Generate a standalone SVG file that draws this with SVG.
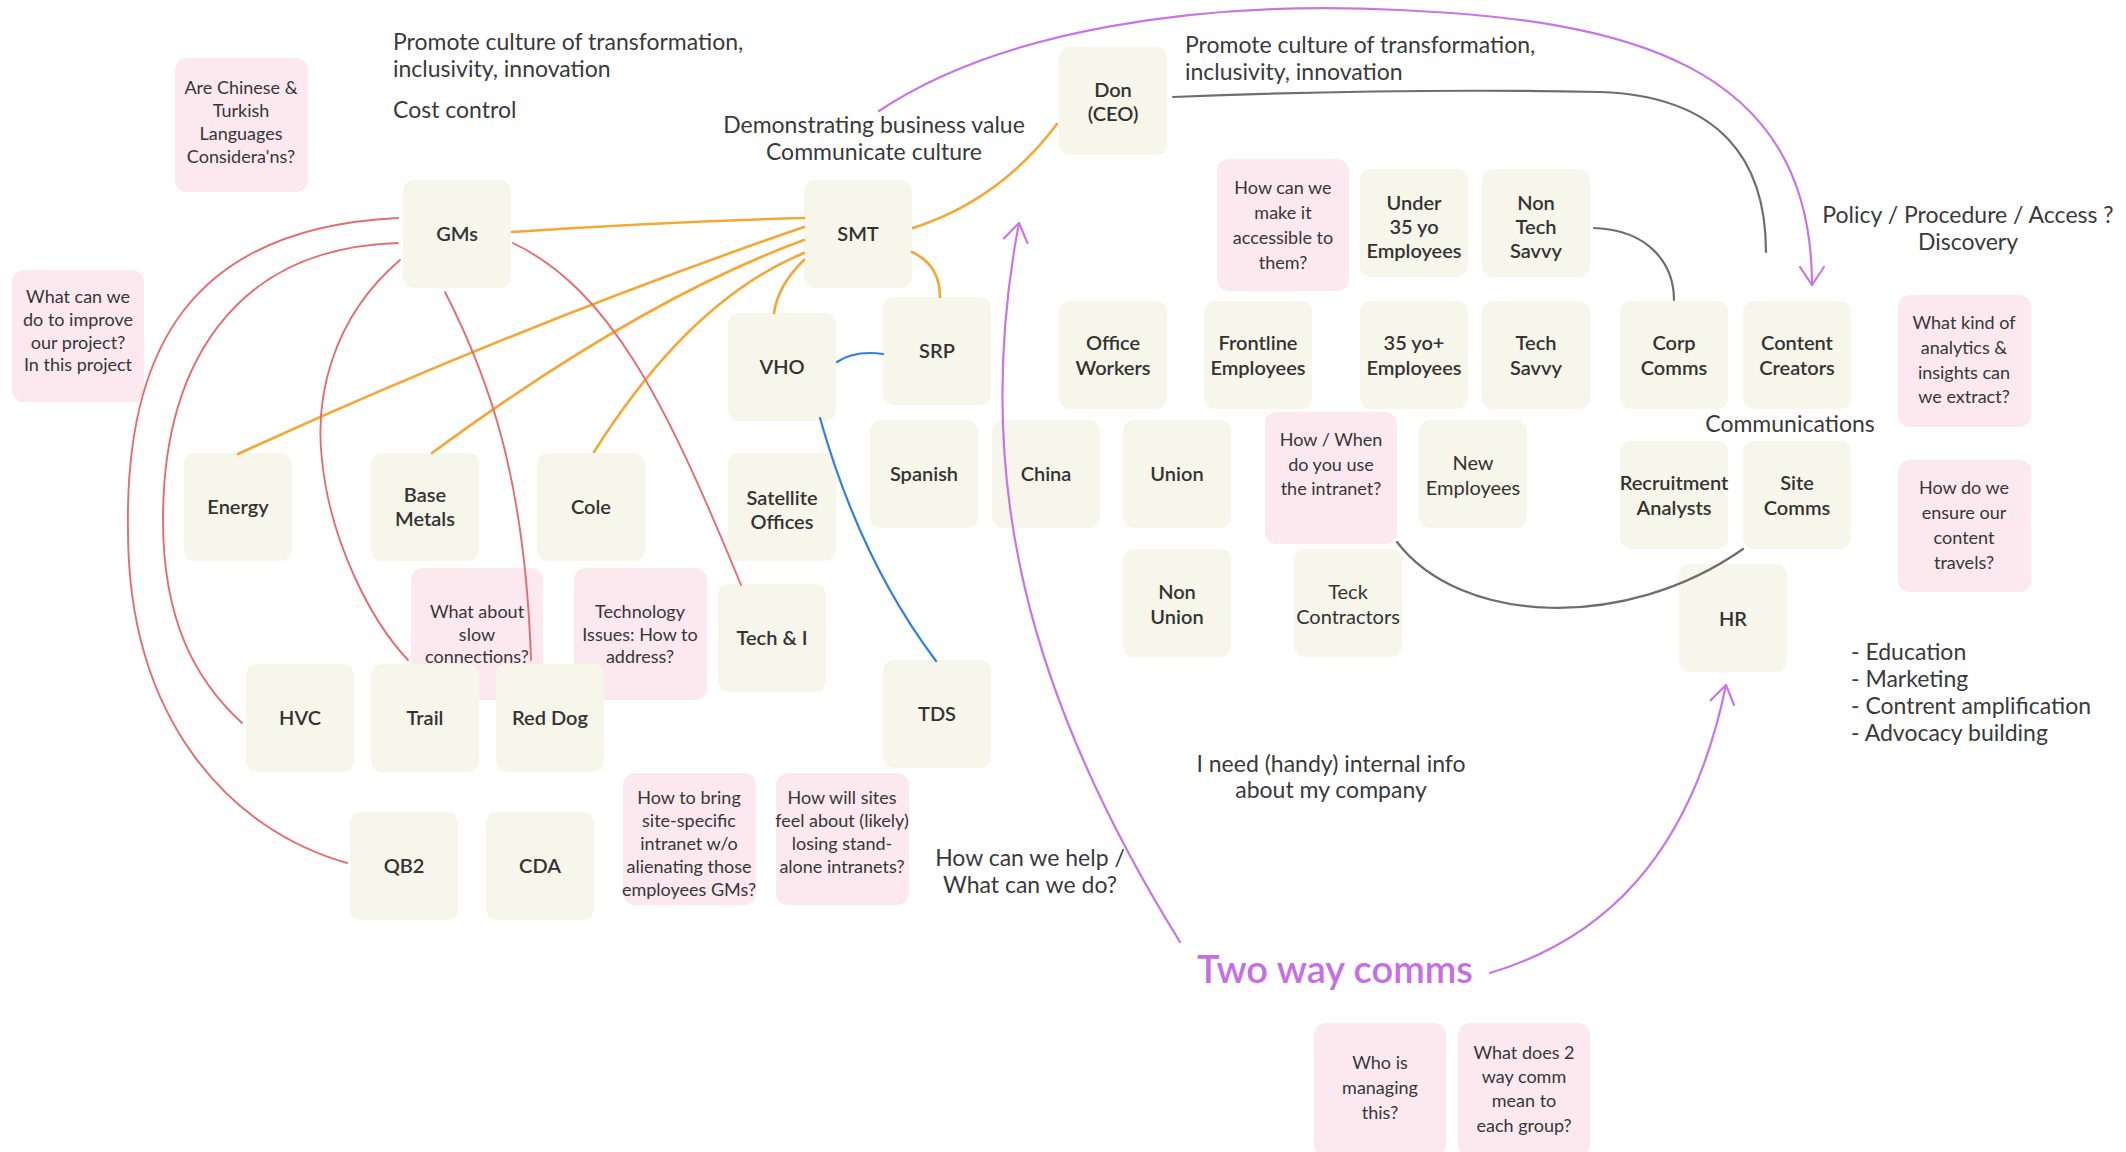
<svg xmlns="http://www.w3.org/2000/svg" width="2126" height="1152" viewBox="0 0 2126 1152">
  <defs>
    <style>
      .n rect { fill: #F7F6EA; }
      .q rect { fill: #FCE9EF; }
      .n text { font-family: Lato, "Noto Sans", sans-serif; font-size: 20px; font-weight: 600; fill: #333333; text-anchor: middle; }
      .n.reg text { font-weight: 400; }
      .q text { font-family: Lato, "Noto Sans", sans-serif; font-size: 18px; font-weight: 400; fill: #363636; text-anchor: middle; }
      .t { font-family: Lato, "Noto Sans", sans-serif; font-size: 23px; font-weight: 400; fill: #3a3a3a; }
      .mid { text-anchor: middle; }
      .big { font-family: Lato, "Noto Sans", sans-serif; font-size: 38px; font-weight: 600; fill: #C56FE6; text-anchor: middle; }
      .c path { fill: none; stroke-linecap: round; }
      .orange { stroke: #F6A732; stroke-width: 2.6; }
      .red { stroke: #E66C70; stroke-width: 1.9; }
      .blue { stroke: #2F7FE5; stroke-width: 2.2; }
      .gray { stroke: #6E6E6E; stroke-width: 2.2; }
      .purple { stroke: #C775E8; stroke-width: 2.2; }
    </style>
    <marker id="arrow" viewBox="-21 -15 23 30" refX="0" refY="0" markerWidth="23" markerHeight="30" markerUnits="userSpaceOnUse" orient="auto">
      <path d="M-18,-12 L0,0 L-18,12" fill="none" stroke="#C775E8" stroke-width="2.2" stroke-linejoin="round" stroke-linecap="round"/>
    </marker>
  </defs>

  <rect width="2126" height="1152" fill="#FFFFFF"/>

  <!-- free-standing notes -->
  <g id="notes">
    <text class="t"><tspan x="393" y="50">Promote culture of transformation,</tspan><tspan x="393" y="77">inclusivity, innovation</tspan></text>
    <text class="t" x="393" y="118">Cost control</text>
    <text class="t mid"><tspan x="874" y="133">Demonstrating business value</tspan><tspan x="874" y="160">Communicate culture</tspan></text>
    <text class="t"><tspan x="1185" y="53">Promote culture of transformation,</tspan><tspan x="1185" y="80">inclusivity, innovation</tspan></text>
    <text class="t mid"><tspan x="1968" y="223">Policy / Procedure / Access ?</tspan><tspan x="1968" y="250">Discovery</tspan></text>
    <text class="t mid" x="1790" y="432">Communications</text>
    <text class="t mid"><tspan x="1331" y="772">I need (handy) internal info</tspan><tspan x="1331" y="798">about my company</tspan></text>
    <text class="t mid"><tspan x="1030" y="866">How can we help /</tspan><tspan x="1030" y="893">What can we do?</tspan></text>
    <text class="t"><tspan x="1851" y="660">- Education</tspan><tspan x="1851" y="687">- Marketing</tspan><tspan x="1851" y="714">- Contrent amplification</tspan><tspan x="1851" y="741">- Advocacy building</tspan></text>
    <text class="big" x="1335" y="983">Two way comms</text>
  </g>

  <!-- question cards -->
  <g id="q-languages" class="q"><rect x="175" y="58" width="133" height="134" rx="12"/><text><tspan x="241" y="94">Are Chinese &amp;</tspan><tspan x="241" y="117">Turkish</tspan><tspan x="241" y="140">Languages</tspan><tspan x="241" y="163">Considera'ns?</tspan></text></g>
  <g id="q-improve" class="q"><rect x="12" y="270" width="132" height="132" rx="12"/><text><tspan x="78" y="303">What can we</tspan><tspan x="78" y="326">do to improve</tspan><tspan x="78" y="349">our project?</tspan><tspan x="78" y="371">In this project</tspan></text></g>
  <g id="q-slow" class="q"><rect x="411" y="568" width="132" height="132" rx="12"/><text><tspan x="477" y="618">What about</tspan><tspan x="477" y="641">slow</tspan><tspan x="477" y="663">connections?</tspan></text></g>
  <g id="q-tech" class="q"><rect x="574" y="568" width="133" height="132" rx="12"/><text><tspan x="640" y="618">Technology</tspan><tspan x="640" y="641">Issues: How to</tspan><tspan x="640" y="663">address?</tspan></text></g>
  <g id="q-bring" class="q"><rect x="623" y="773" width="133" height="132" rx="12"/><text><tspan x="689" y="804">How to bring</tspan><tspan x="689" y="827">site-specific</tspan><tspan x="689" y="850">intranet w/o</tspan><tspan x="689" y="873">alienating those</tspan><tspan x="689" y="896">employees GMs?</tspan></text></g>
  <g id="q-sites" class="q"><rect x="776" y="773" width="133" height="132" rx="12"/><text><tspan x="842" y="804">How will sites</tspan><tspan x="842" y="827">feel about (likely)</tspan><tspan x="842" y="850">losing stand-</tspan><tspan x="842" y="873">alone intranets?</tspan></text></g>
  <g id="q-access" class="q"><rect x="1217" y="159" width="132" height="132" rx="12"/><text><tspan x="1283" y="194">How can we</tspan><tspan x="1283" y="219">make it</tspan><tspan x="1283" y="244">accessible to</tspan><tspan x="1283" y="269">them?</tspan></text></g>
  <g id="q-when" class="q"><rect x="1265" y="412" width="132" height="132" rx="12"/><text><tspan x="1331" y="446">How / When</tspan><tspan x="1331" y="471">do you use</tspan><tspan x="1331" y="495">the intranet?</tspan></text></g>
  <g id="q-analytics" class="q"><rect x="1898" y="295" width="133" height="132" rx="12"/><text><tspan x="1964" y="329">What kind of</tspan><tspan x="1964" y="354">analytics &amp;</tspan><tspan x="1964" y="379">insights can</tspan><tspan x="1964" y="403">we extract?</tspan></text></g>
  <g id="q-travels" class="q"><rect x="1898" y="460" width="133" height="132" rx="12"/><text><tspan x="1964" y="494">How do we</tspan><tspan x="1964" y="519">ensure our</tspan><tspan x="1964" y="544">content</tspan><tspan x="1964" y="569">travels?</tspan></text></g>
  <g id="q-managing" class="q"><rect x="1314" y="1023" width="132" height="134" rx="12"/><text><tspan x="1380" y="1069">Who is</tspan><tspan x="1380" y="1094">managing</tspan><tspan x="1380" y="1119">this?</tspan></text></g>
  <g id="q-meaning" class="q"><rect x="1458" y="1023" width="132" height="134" rx="12"/><text><tspan x="1524" y="1059">What does 2</tspan><tspan x="1524" y="1083">way comm</tspan><tspan x="1524" y="1107">mean to</tspan><tspan x="1524" y="1132">each group?</tspan></text></g>

  <!-- stakeholder nodes -->
  <g id="gms" class="n"><rect x="403" y="180" width="108" height="108" rx="11"/><text x="457" y="241">GMs</text></g>
  <g id="smt" class="n"><rect x="804" y="180" width="108" height="108" rx="11"/><text x="858" y="241">SMT</text></g>
  <g id="don" class="n"><rect x="1059" y="47" width="108" height="108" rx="11"/><text><tspan x="1113" y="97">Don</tspan><tspan x="1113" y="121">(CEO)</tspan></text></g>
  <g id="vho" class="n"><rect x="728" y="313" width="108" height="108" rx="11"/><text x="782" y="374">VHO</text></g>
  <g id="srp" class="n"><rect x="883" y="297" width="108" height="108" rx="11"/><text x="937" y="358">SRP</text></g>
  <g id="energy" class="n"><rect x="184" y="453" width="108" height="108" rx="11"/><text x="238" y="514">Energy</text></g>
  <g id="base-metals" class="n"><rect x="371" y="453" width="108" height="108" rx="11"/><text><tspan x="425" y="502">Base</tspan><tspan x="425" y="526">Metals</tspan></text></g>
  <g id="cole" class="n"><rect x="537" y="453" width="108" height="108" rx="11"/><text x="591" y="514">Cole</text></g>
  <g id="satellite" class="n"><rect x="728" y="453" width="108" height="108" rx="11"/><text><tspan x="782" y="505">Satellite</tspan><tspan x="782" y="529">Offices</tspan></text></g>
  <g id="tech-i" class="n"><rect x="718" y="584" width="108" height="108" rx="11"/><text x="772" y="645">Tech &amp; I</text></g>
  <g id="hvc" class="n"><rect x="246" y="664" width="108" height="108" rx="11"/><text x="300" y="725">HVC</text></g>
  <g id="trail" class="n"><rect x="371" y="664" width="108" height="108" rx="11"/><text x="425" y="725">Trail</text></g>
  <g id="red-dog" class="n"><rect x="496" y="664" width="108" height="108" rx="11"/><text x="550" y="725">Red Dog</text></g>
  <g id="qb2" class="n"><rect x="350" y="812" width="108" height="108" rx="11"/><text x="404" y="873">QB2</text></g>
  <g id="cda" class="n"><rect x="486" y="812" width="108" height="108" rx="11"/><text x="540" y="873">CDA</text></g>
  <g id="tds" class="n"><rect x="883" y="660" width="108" height="108" rx="11"/><text x="937" y="721">TDS</text></g>
  <g id="spanish" class="n"><rect x="870" y="420" width="108" height="108" rx="11"/><text x="924" y="481">Spanish</text></g>
  <g id="china" class="n"><rect x="992" y="420" width="108" height="108" rx="11"/><text x="1046" y="481">China</text></g>
  <g id="union" class="n"><rect x="1123" y="420" width="108" height="108" rx="11"/><text x="1177" y="481">Union</text></g>
  <g id="non-union" class="n"><rect x="1123" y="549" width="108" height="108" rx="11"/><text><tspan x="1177" y="599">Non</tspan><tspan x="1177" y="624">Union</tspan></text></g>
  <g id="teck-contractors" class="n reg"><rect x="1294" y="549" width="108" height="108" rx="11"/><text><tspan x="1348" y="599">Teck</tspan><tspan x="1348" y="624">Contractors</tspan></text></g>
  <g id="new-employees" class="n reg"><rect x="1419" y="420" width="108" height="108" rx="11"/><text><tspan x="1473" y="470">New</tspan><tspan x="1473" y="495">Employees</tspan></text></g>
  <g id="office-workers" class="n"><rect x="1059" y="301" width="108" height="108" rx="11"/><text><tspan x="1113" y="350">Office</tspan><tspan x="1113" y="375">Workers</tspan></text></g>
  <g id="frontline" class="n"><rect x="1204" y="301" width="108" height="108" rx="11"/><text><tspan x="1258" y="350">Frontline</tspan><tspan x="1258" y="375">Employees</tspan></text></g>
  <g id="over-35" class="n"><rect x="1360" y="301" width="108" height="108" rx="11"/><text><tspan x="1414" y="350">35 yo+</tspan><tspan x="1414" y="375">Employees</tspan></text></g>
  <g id="tech-savvy" class="n"><rect x="1482" y="301" width="108" height="108" rx="11"/><text><tspan x="1536" y="350">Tech</tspan><tspan x="1536" y="375">Savvy</tspan></text></g>
  <g id="corp-comms" class="n"><rect x="1620" y="301" width="108" height="108" rx="11"/><text><tspan x="1674" y="350">Corp</tspan><tspan x="1674" y="375">Comms</tspan></text></g>
  <g id="content-creators" class="n"><rect x="1743" y="301" width="108" height="108" rx="11"/><text><tspan x="1797" y="350">Content</tspan><tspan x="1797" y="375">Creators</tspan></text></g>
  <g id="under-35" class="n"><rect x="1360" y="169" width="108" height="108" rx="11"/><text><tspan x="1414" y="210">Under</tspan><tspan x="1414" y="234">35 yo</tspan><tspan x="1414" y="258">Employees</tspan></text></g>
  <g id="non-tech-savvy" class="n"><rect x="1482" y="169" width="108" height="108" rx="11"/><text><tspan x="1536" y="210">Non</tspan><tspan x="1536" y="234">Tech</tspan><tspan x="1536" y="258">Savvy</tspan></text></g>
  <g id="recruitment" class="n"><rect x="1620" y="441" width="108" height="108" rx="11"/><text><tspan x="1674" y="490">Recruitment</tspan><tspan x="1674" y="515">Analysts</tspan></text></g>
  <g id="site-comms" class="n"><rect x="1743" y="441" width="108" height="108" rx="11"/><text><tspan x="1797" y="490">Site</tspan><tspan x="1797" y="515">Comms</tspan></text></g>
  <g id="hr" class="n"><rect x="1679" y="564" width="108" height="108" rx="11"/><text x="1733" y="626">HR</text></g>

  <!-- connectors -->
  <g id="connectors" class="c">
    <!-- SMT links -->
    <path class="orange" d="M512,232 Q660,222 804,218"/>
    <path class="orange" d="M804,227 Q520,325 238,454"/>
    <path class="orange" d="M804,240 Q640,300 432,453"/>
    <path class="orange" d="M804,253 Q690,300 594,452"/>
    <path class="orange" d="M804,260 Q778,285 774,313"/>
    <path class="orange" d="M913,228 Q1000,200 1057,124"/>
    <path class="orange" d="M912,252 Q940,265 940,297"/>
    <!-- GMs to sites -->
    <path class="red" d="M398,218 C190,228 125,350 128,530 C128,720 230,830 347,863"/>
    <path class="red" d="M398,243 C230,248 163,370 163,520 C163,620 195,680 242,723"/>
    <path class="red" d="M400,260 C330,320 315,400 322,460 C330,540 370,620 408,660"/>
    <path class="red" d="M445,292 C490,380 525,480 531,660"/>
    <path class="red" d="M513,243 C610,290 665,400 741,585"/>
    <!-- VHO links -->
    <path class="blue" d="M837,362 Q855,350 883,354"/>
    <path class="blue" d="M820,418 Q860,560 936,661"/>
    <!-- communications links -->
    <path class="gray" d="M1173,97 Q1400,88 1600,92 C1720,96 1766,160 1766,252"/>
    <path class="gray" d="M1594,228 C1650,230 1674,265 1674,300"/>
    <path class="gray" d="M1397,542 C1460,625 1625,632 1743,549"/>
    <!-- two way comms -->
    <path class="purple" d="M879,111 C1000,30 1200,0 1400,10 C1620,20 1812,60 1812,285" marker-end="url(#arrow)"/>
    <path class="purple" d="M1180,942 C1030,700 970,480 1019,223" marker-end="url(#arrow)"/>
    <path class="purple" d="M1490,973 C1600,940 1690,860 1726,685" marker-end="url(#arrow)"/>
  </g>
</svg>
